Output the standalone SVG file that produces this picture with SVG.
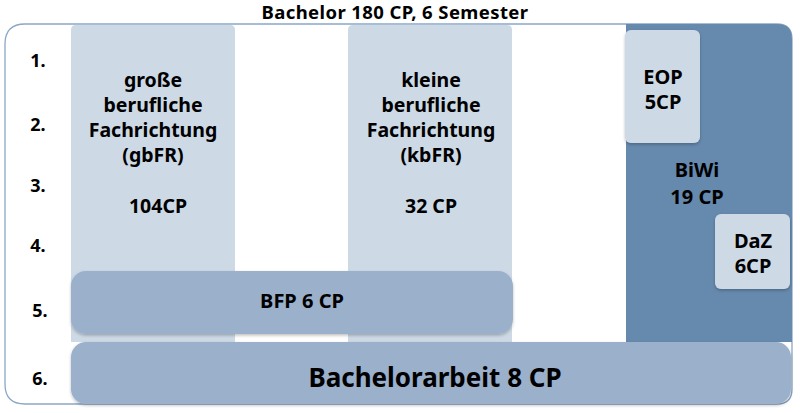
<svg xmlns="http://www.w3.org/2000/svg" width="800" height="413" viewBox="0 0 800 413">
<defs>
<filter id="sh" x="-5%" y="-20%" width="110%" height="140%">
<feDropShadow dx="0" dy="1.5" stdDeviation="1.5" flood-color="#000" flood-opacity="0.25"/>
</filter>
<style>
text{font-family:"Noto Sans","DejaVu Sans",sans-serif;font-weight:bold;fill:#000;text-anchor:middle}
.lbl{font-size:18px}
.col{fill:#cdd9e5}
.mid{fill:#9ab0cb}
.box{fill:#cdd9e5}
.t{font-size:19.5px}
.s{font-size:20px}
</style>
</defs>
<rect width="800" height="413" fill="#fff"/>
<text x="395" y="19" style="font-size:18.5px;letter-spacing:0.4px">Bachelor 180 CP, 6 Semester</text>
<g id="frame">
<path d="M25,24 H777 Q792,24 792,39 V389 Q792,404 777,404 H25 Q5,404 5,384 V44 Q5,24 25,24 Z" fill="#fff" stroke="#8aa6c7" stroke-width="1.3"/>
</g>
<g id="semesters">
<text x="38" y="67" class="lbl">1.</text>
<text x="38" y="131" class="lbl">2.</text>
<text x="38" y="192" class="lbl">3.</text>
<text x="38" y="252" class="lbl">4.</text>
<text x="40" y="317" class="lbl">5.</text>
<text x="40" y="385" class="lbl">6.</text>
</g>
<g id="gbFR">
<path class="col" d="M71,30 Q71,25 76,25 H230 Q235,25 235,30 V342 H71 Z"/>
<text x="153" y="87" class="t">große</text>
<text x="153" y="112" class="t">berufliche</text>
<text x="153" y="137" class="t">Fachrichtung</text>
<text x="153" y="162" class="t">(gbFR)</text>
<text x="158" y="213" class="t">104CP</text>
</g>
<g id="kbFR">
<path class="col" d="M348,30 Q348,25 353,25 H507 Q512,25 512,30 V342 H348 Z"/>
<text x="431" y="87" class="t">kleine</text>
<text x="431" y="112" class="t">berufliche</text>
<text x="431" y="137" class="t">Fachrichtung</text>
<text x="431" y="162" class="t">(kbFR)</text>
<text x="431" y="213" class="t">32 CP</text>
</g>
<g id="BiWi">
<path fill="#6689ae" d="M626,24 H777 Q792,24 792,39 V342 H626 Z"/>
<text x="697" y="177" class="s">BiWi</text>
<text x="697" y="204" class="s">19 CP</text>
</g>
<g id="EOP">
<rect class="box" x="625" y="30" width="75" height="113" rx="6" filter="url(#sh)"/>
<text x="663" y="84" class="s">EOP</text>
<text x="663" y="109" class="s">5CP</text>
</g>
<g id="DaZ">
<rect class="box" x="715" y="214" width="75" height="75" rx="6" filter="url(#sh)"/>
<text x="753" y="248" class="s">DaZ</text>
<text x="753" y="273" class="s">6CP</text>
</g>
<g id="BFP">
<rect class="mid" x="71" y="271" width="442" height="63" rx="15" filter="url(#sh)"/>
<text x="302" y="308" class="s">BFP 6 CP</text>
</g>
<g id="Bachelorarbeit">
<rect class="mid" x="71" y="342" width="720" height="62" rx="15" filter="url(#sh)"/>
<text x="435" y="387" style="font-size:26px">Bachelorarbeit 8 CP</text>
</g>
<g id="connectors"/>
</svg>
